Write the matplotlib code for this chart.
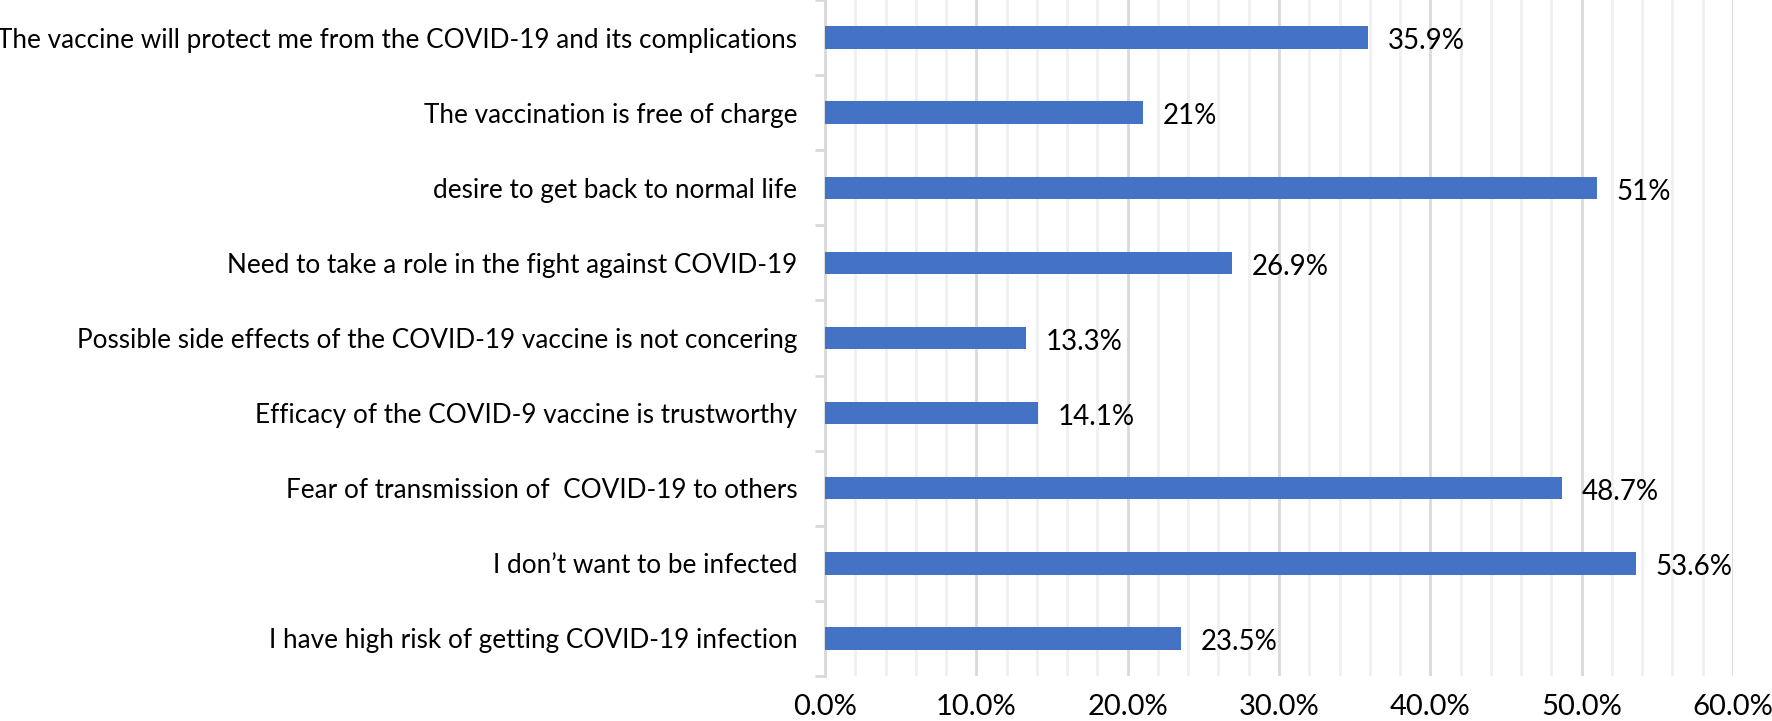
import matplotlib
matplotlib.use("Agg")
import matplotlib.pyplot as plt
from matplotlib.ticker import MultipleLocator, FuncFormatter
import numpy as np

plt.rcParams['font.family'] = ['Lato', 'DejaVu Sans']

reasons = [
    "The vaccine will protect me from the COVID-19 and its complications",
    "The vaccination is free of charge",
    "desire to get back to normal life",
    "Need to take a role in the fight against COVID-19",
    "Possible side effects of the COVID-19 vaccine is not concering",
    "Efficacy of the COVID-9 vaccine is trustworthy",
    "Fear of transmission of  COVID-19 to others",
    "I don\u2019t want to be infected",
    "I have high risk of getting COVID-19 infection",
]
percent = [35.9, 21, 51, 26.9, 13.3, 14.1, 48.7, 53.6, 23.5]
value_labels = ["35.9%", "21%", "51%", "26.9%", "13.3%", "14.1%", "48.7%", "53.6%", "23.5%"]

fig = plt.figure(figsize=(17.72, 7.21), dpi=100)
ax = fig.add_axes([0.4656, 0.0624, 0.978 - 0.4656, 0.9376])

n = len(reasons)
ypos = np.arange(n)[::-1]
ax.barh(ypos, percent, height=0.3, color='#4472C4', zorder=3)

for y, v, lab in zip(ypos, percent, value_labels):
    ax.text(v + 1.3, y - 0.05, lab, va='center', ha='left', fontsize=20, color='black')

ax.set_xlim(0, 60)
ax.set_ylim(-0.5, n - 0.5)
ax.xaxis.set_major_locator(MultipleLocator(10))
ax.xaxis.set_minor_locator(MultipleLocator(2))
ax.xaxis.set_major_formatter(FuncFormatter(lambda x, p: "%.1f%%" % x))
ax.grid(axis='x', which='major', color='#d9d9d9', linewidth=2, zorder=0)
ax.grid(axis='x', which='minor', color='#f0f0f0', linewidth=2, zorder=0)
ax.tick_params(axis='x', which='both', length=0, pad=13, labelsize=21)

ax.set_yticks(ypos)
ax.set_yticklabels(reasons)
ax.set_yticks(np.arange(n + 1) - 0.5, minor=True)
ax.tick_params(axis='y', which='major', length=0, pad=20, labelsize=18.8)
ax.tick_params(axis='y', which='minor', length=7, width=2, color='#d9d9d9')

for s in ['top', 'right', 'bottom']:
    ax.spines[s].set_visible(False)
ax.spines['left'].set_color('#d9d9d9')
ax.spines['left'].set_linewidth(2)

fig.savefig('out.png', dpi=100)
